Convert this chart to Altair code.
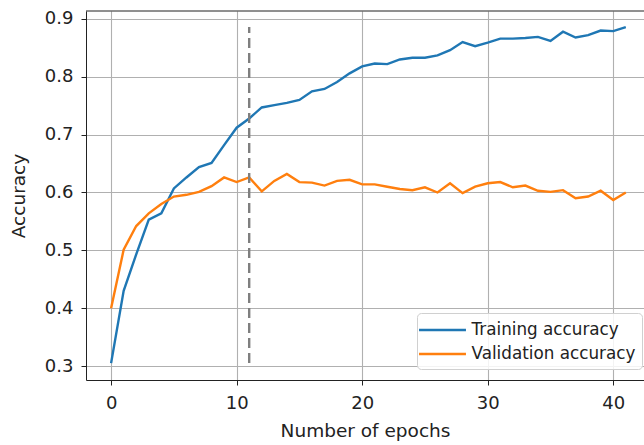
import altair as alt
import pandas as pd

epochs = list(range(42))
train_acc = [0.305, 0.430, 0.493, 0.553, 0.564, 0.607, 0.626, 0.644, 0.651, 0.682,
             0.712, 0.728, 0.747, 0.751, 0.755, 0.760, 0.775, 0.779, 0.791, 0.806,
             0.818, 0.823, 0.822, 0.830, 0.833, 0.833, 0.837, 0.846, 0.860, 0.853,
             0.859, 0.866, 0.866, 0.867, 0.869, 0.862, 0.878, 0.868, 0.872, 0.880,
             0.879, 0.886]
val_acc = [0.400, 0.501, 0.542, 0.564, 0.580, 0.593, 0.596, 0.601, 0.611, 0.626,
           0.618, 0.626, 0.602, 0.620, 0.632, 0.618, 0.617, 0.612, 0.620, 0.622,
           0.614, 0.614, 0.610, 0.606, 0.604, 0.609, 0.600, 0.616, 0.599, 0.610,
           0.616, 0.618, 0.609, 0.612, 0.603, 0.601, 0.604, 0.590, 0.593, 0.603,
           0.587, 0.600]
series_names = ["Training accuracy", "Validation accuracy"]
series_colors = ["#1f77b4", "#ff7f0e"]
best_epoch = [11]
vline_low = [min(train_acc)]
vline_high = [max(train_acc)]
x_ticks = [0, 10, 20, 30, 40]
y_ticks = [0.3, 0.4, 0.5, 0.6, 0.7, 0.8, 0.9]

rows = []
for e, t, v in zip(epochs, train_acc, val_acc):
    rows.append({"epoch": e, "acc": t, "series": series_names[0]})
    rows.append({"epoch": e, "acc": v, "series": series_names[1]})
df = pd.DataFrame(rows)
vdf = pd.DataFrame({"epoch": best_epoch, "lo": vline_low, "hi": vline_high})

W, H = 558, 369
FONT = "DejaVu Sans"
x_scale = alt.Scale(domain=[-2.0, 42.45], nice=False, zero=False)
y_scale = alt.Scale(domain=[0.2758, 0.9138], nice=False, zero=False)

x_axis = alt.Axis(title="Number of epochs", values=x_ticks, format="d",
                  grid=True, gridColor="#b0b0b0", gridWidth=1.1,
                  domainColor="#222222", domainWidth=1,
                  tickColor="#222222", tickSize=5, labelPadding=9,
                  labelFont=FONT, labelFontSize=18, labelColor="#222222",
                  titleFont=FONT, titleFontSize=18.5, titleFontWeight="normal",
                  titleColor="#222222", titlePadding=9)
y_axis = alt.Axis(title="Accuracy", values=y_ticks, format=".1f",
                  grid=True, gridColor="#b0b0b0", gridWidth=1.1,
                  domainColor="#222222", domainWidth=1,
                  tickColor="#222222", tickSize=5, labelPadding=8,
                  labelFont=FONT, labelFontSize=18, labelColor="#222222",
                  titleFont=FONT, titleFontSize=18.5, titleFontWeight="normal",
                  titleColor="#222222", titlePadding=16)

lines = alt.Chart(df).mark_line(strokeWidth=2.4, clip=True).encode(
    x=alt.X("epoch:Q", scale=x_scale, axis=x_axis),
    y=alt.Y("acc:Q", scale=y_scale, axis=y_axis),
    color=alt.Color("series:N",
                    scale=alt.Scale(domain=series_names, range=series_colors),
                    legend=alt.Legend(title=None, orient="none",
                                      legendX=331, legendY=302,
                                      symbolType="M-2.47,0H2.47", symbolSize=361,
                                      symbolStrokeWidth=2.4, symbolOffset=8.5,
                                      labelFont=FONT, labelFontSize=16.8,
                                      labelColor="#222222", labelLimit=400,
                                      labelOffset=18,
                                      fillColor="rgba(255,255,255,0.85)",
                                      strokeColor="#d0d0d0",
                                      cornerRadius=4, padding=6, rowPadding=4)),
)

vline = alt.Chart(vdf).mark_rule(color="#7f7f7f", strokeWidth=2.4,
                                 strokeDash=[10, 5]).encode(
    x=alt.X("epoch:Q", scale=x_scale),
    y=alt.Y("lo:Q", scale=y_scale),
    y2="hi:Q",
)

top = alt.Chart(pd.DataFrame({"a": [0]})).mark_rule(color="#222222", strokeWidth=1).encode(
    x=alt.value(0), x2=alt.value(W), y=alt.value(0)
)

chart = alt.layer(lines, vline, top).properties(
    width=W, height=H,
    autosize=alt.AutoSizeParams(type="none"),
    padding={"left": 86, "top": 11, "right": 0, "bottom": 65},
    background="white",
).configure_view(stroke=None)

chart.save("out.html", embed_options={"renderer": "svg", "actions": False})
